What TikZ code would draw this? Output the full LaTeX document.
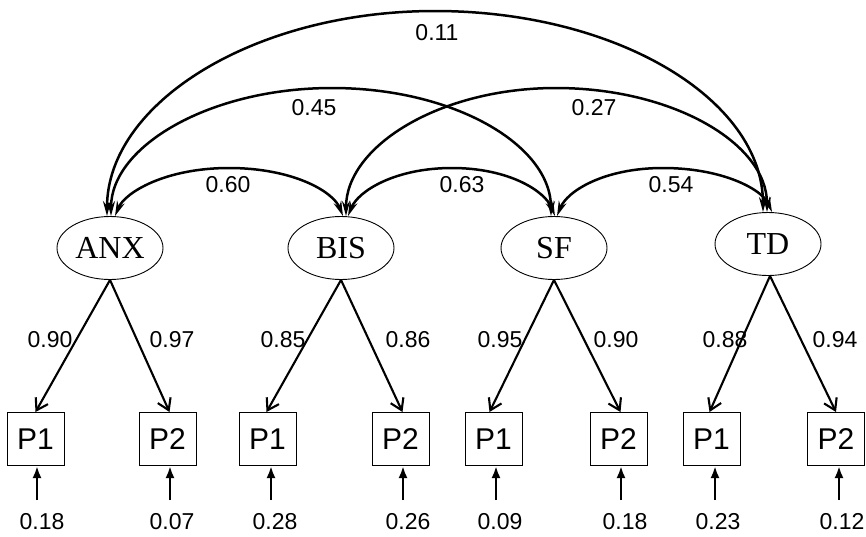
\documentclass[tikz,border=0pt]{standalone}
\usepackage{fontspec}
\setmainfont{Liberation Serif}
\newfontfamily\numfont{Liberation Sans}
\usetikzlibrary{arrows.meta,shapes.geometric}
\begin{document}
\begin{tikzpicture}[x=1pt,y=-1pt,
  latent/.style={ellipse,draw,line width=0.9pt,minimum width=106pt,minimum height=63pt,inner sep=0pt,font=\fontsize{32}{34}\selectfont},
  obs/.style={rectangle,draw,line width=1pt,minimum width=57pt,minimum height=53pt,inner sep=0pt,font=\numfont\fontsize{30}{32}\selectfont},
  num/.style={inner sep=0pt,font=\numfont\fontsize{23}{25}\selectfont},
  cov/.style={line width=2.5pt,{Stealth[length=15pt,width=8pt,inset=5pt]}-{Stealth[length=15pt,width=8pt,inset=5pt]}},
  load/.style={line width=2.1pt,-{Straight Barb[length=11pt,width=14pt,line width=2.1pt]}},
  err/.style={line width=2.4pt,-{Latex[length=12pt,width=9pt]}}]
\useasboundingbox (0,0) rectangle (866,536);
% latent variables
\node[latent] (anx) at (110,248) {ANX};
\node[latent] (bis) at (341,248) {BIS};
\node[latent] (sf)  at (554,248) {SF};
\node[latent] (td)  at (768,244) {TD};
% observed
\node[obs] (a1) at (35.5,439) {P1};
\node[obs] (a2) at (167.5,439) {P2};
\node[obs] (b1) at (267.5,439) {P1};
\node[obs] (b2) at (400.5,439) {P2};
\node[obs] (s1) at (493.5,439) {P1};
\node[obs] (s2) at (618.5,439) {P2};
\node[obs] (t1) at (711.5,439) {P1};
\node[obs] (t2) at (836,439) {P2};
% loadings
\draw[load] (anx.south) -- (a1.north);
\draw[load] (anx.south) -- ([xshift=2pt]a2.north);
\draw[load] (bis.south) -- ([xshift=-1pt]b1.north);
\draw[load] (bis.south) -- ([xshift=2pt]b2.north);
\draw[load] (sf.south) -- ([xshift=-4pt]s1.north);
\draw[load] (sf.south) -- ([xshift=2pt]s2.north);
\draw[load] ([xshift=2pt]td.south) -- ([xshift=-2pt]t1.north);
\draw[load] ([xshift=2pt]td.south) -- (t2.north);
\node[num] (la1) at (50,340) {0.90};
\node[num] (la2) at (172,340) {0.97};
\node[num] (lb1) at (283,340) {0.85};
\node[num] (lb2) at (408,340) {0.86};
\node[num] (ls1) at (500,340) {0.95};
\node[num] (ls2) at (616,340) {0.90};
\node[num] (lt1) at (725,340) {0.88};
\node[num] (lt2) at (835,340) {0.94};
% residuals
\node[num] (ra1) at (42,522) {0.18};
\node[num] (ra2) at (172,522) {0.07};
\node[num] (rb1) at (275,522) {0.28};
\node[num] (rb2) at (408,522) {0.26};
\node[num] (rs1) at (500,522) {0.09};
\node[num] (rs2) at (625,522) {0.18};
\node[num] (rt1) at (718,522) {0.23};
\node[num] (rt2) at (842,522) {0.12};
\coordinate (ea1) at (37,500);
\coordinate (ea2) at (170,500);
\coordinate (eb1) at (271,500);
\coordinate (eb2) at (403,500);
\coordinate (es1) at (496,500);
\coordinate (es2) at (621,500);
\coordinate (et1) at (715,500);
\coordinate (et2) at (839,500);
\foreach \e/\b in {ea1/a1,ea2/a2,eb1/b1,eb2/b2,es1/s1,es2/s2,et1/t1,et2/t2}
  \draw[err] (\e) -- (\e |- \b.south);
% covariance peaks
\coordinate (k11) at (435,11);
\coordinate (k45) at (332,88);
\coordinate (k27) at (556,88);
\coordinate (k60) at (229,168);
\coordinate (k63) at (452,168);
\coordinate (k54) at (663,168);
% covariances
\draw[cov] ([xshift=-3pt]anx.north) .. controls +(0,-113) and +(-181,0) .. (k11)
  .. controls +(181,0) and +(0,-113) .. ([xshift=-5pt]td.north);
\draw[cov] ([xshift=1pt]anx.north) .. controls +(0,-70) and +(-122,0) .. (k45)
  .. controls +(122,0) and +(0,-71) .. ([xshift=-3pt]sf.north);
\draw[cov] ([xshift=5pt]anx.north) .. controls +(10,-24) and +(-63,0) .. (k60)
  .. controls +(63,0) and +(-10,-25) .. ([xshift=2pt]bis.north);
\draw[cov] ([xshift=7pt]bis.north) .. controls +(10,-25) and +(-57,0) .. (k63)
  .. controls +(57,0) and +(-10,-25) .. ([xshift=1pt]sf.north);
\draw[cov] ([xshift=5pt]bis.north) .. controls +(0,-70) and +(-116,0) .. (k27)
  .. controls +(116,0) and +(0,-69) .. ([xshift=-1pt]td.north);
\draw[cov] ([xshift=3pt]sf.north) .. controls +(10,-25) and +(-59,0) .. (k54)
  .. controls +(59,0) and +(-10,-23) .. ([xshift=4pt]td.north);
\node[num] (c11) at (437,33) {0.11};
\node[num] (c45) at (314,108) {0.45};
\node[num] (c27) at (594,108) {0.27};
\node[num] (c60) at (228,185) {0.60};
\node[num] (c63) at (462,185) {0.63};
\node[num] (c54) at (671,185) {0.54};
\end{tikzpicture}
\end{document}
